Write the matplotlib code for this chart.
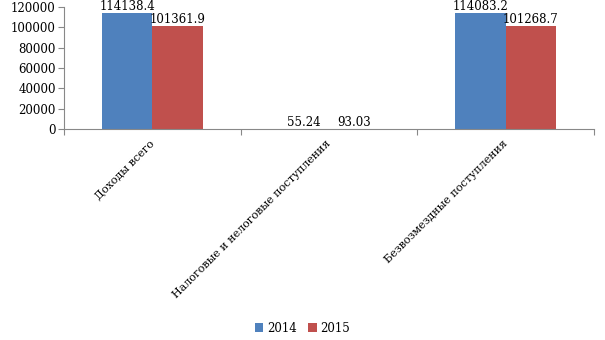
import matplotlib.pyplot as plt
import numpy as np

categories = ['Доходы всего', 'Налоговые и нелоговые поступления', 'Безвозмездные поступления']
v2014 = [114138.4, 55.24, 114083.2]
v2015 = [101361.9, 93.03, 101268.7]
lab2014 = ['114138.4', '55.24', '114083.2']
lab2015 = ['101361.9', '93.03', '101268.7']

plt.rcParams['font.family'] = ['DejaVu Serif']
plt.rcParams['font.size'] = 8.5

fig = plt.figure(figsize=(6.05, 3.4), dpi=100)
ax = fig.add_axes([0.106, 0.6206, 0.876, 0.3588])

x = np.arange(len(categories))
w = 0.285
b1 = ax.bar(x - w/2, v2014, w, color='#4f81bd', label='2014')
b2 = ax.bar(x + w/2, v2015, w, color='#c0504d', label='2015')

for bars, labs in ((b1, lab2014), (b2, lab2015)):
    for rect, t in zip(bars, labs):
        ax.text(rect.get_x() + rect.get_width()/2, rect.get_height() + 300, t,
                ha='center', va='bottom', fontsize=8.5, clip_on=False)

ax.set_xlim(-0.5, 2.5)
ax.set_ylim(0, 120000)
ax.set_yticks(range(0, 120001, 20000))
ax.set_xticks([-0.5, 0.5, 1.5, 2.5])
ax.set_xticklabels([])
ax.tick_params(axis='x', length=4, color='#888888')
ax.tick_params(axis='y', length=4, color='#888888', pad=2)
for i, c in enumerate(categories):
    ax.text(i - 0.02, -9000, c, rotation=45, ha='right', va='top',
            rotation_mode='anchor', fontsize=8)

for s in ('top', 'right'):
    ax.spines[s].set_visible(False)
for s in ('left', 'bottom'):
    ax.spines[s].set_color('#888888')

fig.legend(handles=[b1, b2], labels=['2014', '2015'], loc='center',
           bbox_to_anchor=(0.5, 0.035), ncol=2, frameon=False,
           handlelength=0.7, handleheight=0.7, handletextpad=0.3, columnspacing=1.0)

plt.savefig('out.png', dpi=100)
